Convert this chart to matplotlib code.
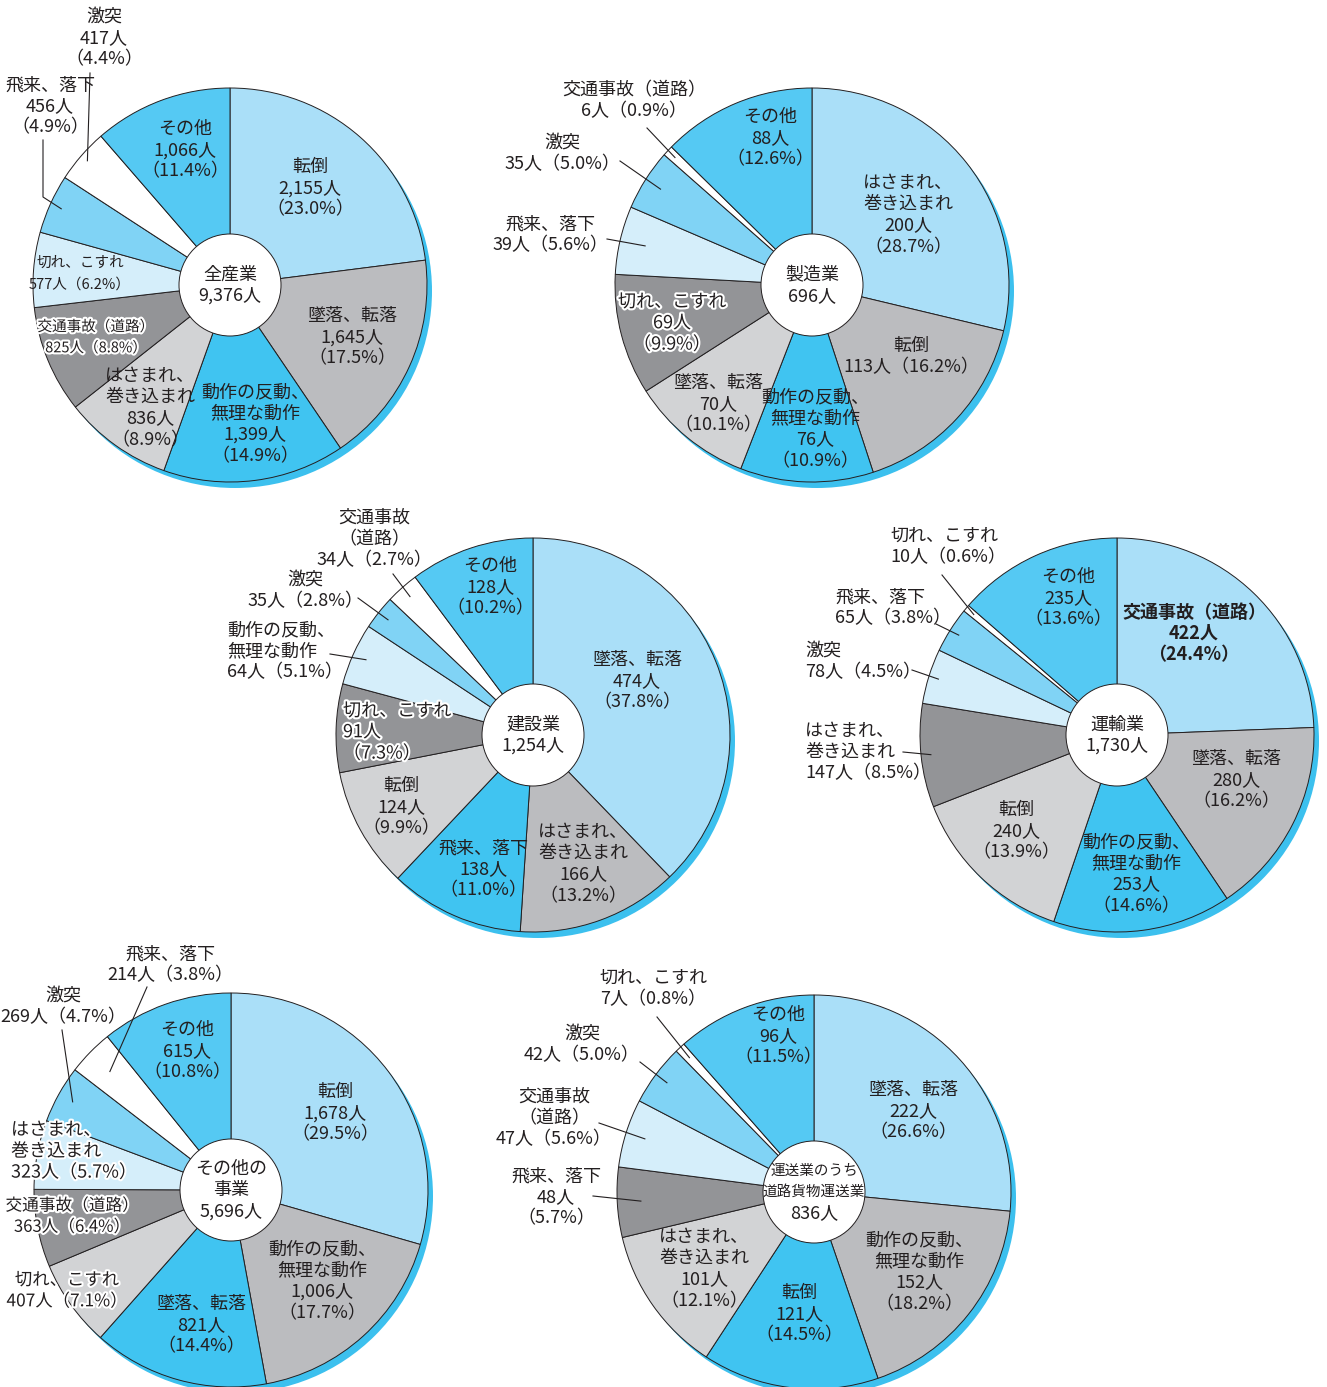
import matplotlib
matplotlib.use('Agg')
import matplotlib.pyplot as plt
import matplotlib.patheffects as pe
from matplotlib.patches import Circle
import numpy as np

plt.rcParams['font.family'] = ['Noto Sans CJK JP', 'DejaVu Sans']

# ---- data (clockwise from 12 o'clock) ----
ALL_CATS = ['転倒', '墜落、転落', '動作の反動、無理な動作', 'はさまれ、巻き込まれ',
            '交通事故（道路）', '切れ、こすれ', '飛来、落下', '激突', 'その他']
ALL_VALS = [2155, 1645, 1399, 836, 825, 577, 456, 417, 1066]
ALL_PCTS = [23.0, 17.5, 14.9, 8.9, 8.8, 6.2, 4.9, 4.4, 11.4]

MFG_CATS = ['はさまれ、巻き込まれ', '転倒', '動作の反動、無理な動作', '墜落、転落',
            '切れ、こすれ', '飛来、落下', '激突', '交通事故（道路）', 'その他']
MFG_VALS = [200, 113, 76, 70, 69, 39, 35, 6, 88]
MFG_PCTS = [28.7, 16.2, 10.9, 10.1, 9.9, 5.6, 5.0, 0.9, 12.6]

CON_CATS = ['墜落、転落', 'はさまれ、巻き込まれ', '飛来、落下', '転倒', '切れ、こすれ',
            '動作の反動、無理な動作', '激突', '交通事故（道路）', 'その他']
CON_VALS = [474, 166, 138, 124, 91, 64, 35, 34, 128]
CON_PCTS = [37.8, 13.2, 11.0, 9.9, 7.3, 5.1, 2.8, 2.7, 10.2]

TRN_CATS = ['交通事故（道路）', '墜落、転落', '動作の反動、無理な動作', '転倒',
            'はさまれ、巻き込まれ', '激突', '飛来、落下', '切れ、こすれ', 'その他']
TRN_VALS = [422, 280, 253, 240, 147, 78, 65, 10, 235]
TRN_PCTS = [24.4, 16.2, 14.6, 13.9, 8.5, 4.5, 3.8, 0.6, 13.6]

OTH_CATS = ['転倒', '動作の反動、無理な動作', '墜落、転落', '切れ、こすれ',
            '交通事故（道路）', 'はさまれ、巻き込まれ', '激突', '飛来、落下', 'その他']
OTH_VALS = [1678, 1006, 821, 407, 363, 323, 269, 214, 615]
OTH_PCTS = [29.5, 17.7, 14.4, 7.1, 6.4, 5.7, 4.7, 3.8, 10.8]

FRT_CATS = ['墜落、転落', '動作の反動、無理な動作', '転倒', 'はさまれ、巻き込まれ',
            '飛来、落下', '交通事故（道路）', '激突', '切れ、こすれ', 'その他']
FRT_VALS = [222, 152, 121, 101, 48, 47, 42, 7, 96]
FRT_PCTS = [26.6, 18.2, 14.5, 12.1, 5.7, 5.6, 5.0, 0.8, 11.5]

# ---- style ----
COLORS = ['#aadff8', '#bbbcbf', '#40c4f1', '#d2d3d5', '#939497',
          '#d5eefa', '#80d3f5', '#ffffff', '#55c9f3']
SHADOW = '#3cc0ee'
EDGE = '#231f20'
TXT = '#231f20'
R = 197
HOLE = 51
FS = 13
SMALL = 10.5
STEP = 21.3

T3 = '{n}\n{v}人\n（{p}）'
T2 = '{n}\n{v}人（{p}）'
TB = '{nb}\n{v}人（{p}）'
BREAK = {'はさまれ、巻き込まれ', '動作の反動、無理な動作'}

W, H = 1327, 1387
fig = plt.figure(figsize=(W / 100, H / 100), dpi=100)
ax = fig.add_axes([0, 0, 1, 1])


def L(x, y, t=T3, **kw):
    d = dict(x=x, y=y, t=t)
    d.update(kw)
    return d


def text_block(x, y, lines, size=FS, ha='center', stroke=False, bold=False, sizes=None):
    for i, s in enumerate(lines):
        fx = [pe.withStroke(linewidth=3, foreground='white')] if stroke else None
        ax.text(x, y + i * STEP, s, ha=ha, va='center', color=TXT,
                fontsize=(sizes[i] if sizes else size),
                fontweight='bold' if bold else 'normal',
                path_effects=fx, zorder=5)


def wedge_point(cx, cy, vals, i, f):
    v = np.asarray(vals, float)
    c = np.cumsum(v) / v.sum()
    m = c[i] - v[i] / v.sum() / 2
    th = np.deg2rad(-90 + 360 * m)
    return cx + f * R * np.cos(th), cy + f * R * np.sin(th)


def draw_pie(cx, cy, cats, vals, pcts, title, labels, title_sizes=None):
    ax.add_patch(Circle((cx + 5, cy + 6), R, fc=SHADOW, ec='none', zorder=0))
    ax.pie(vals, colors=COLORS, radius=R, center=(cx, cy), startangle=-90,
           counterclock=True, frame=True,
           wedgeprops=dict(edgecolor=EDGE, linewidth=0.7))
    ax.add_patch(Circle((cx, cy), HOLE, fc='white', ec=EDGE, lw=0.7, zorder=3))
    lines = title + [f'{sum(vals):,}人']
    text_block(cx, cy - (len(lines) - 1) / 2 * STEP, lines, sizes=title_sizes)

    for i, (c, v, p, lb) in enumerate(zip(cats, vals, pcts, labels)):
        n = c.replace('、', '、\n') if c in BREAK else c
        nb = c.replace('（', '\n（')
        s = lb['t'].format(n=n, nb=nb, v=f'{v:,}', p=f'{p:.1f}%')
        text_block(lb['x'], lb['y'], s.split('\n'), size=lb.get('size', FS),
                   ha=lb.get('ha', 'center'), stroke=lb.get('stroke', False),
                   bold=lb.get('bold', False))
        if 'lead' in lb:
            x0, y0, f = lb['lead']
            x1, y1 = wedge_point(cx, cy, vals, i, f)
            xs, ys = [x0], [y0]
            if 'via' in lb:
                xs.append(lb['via'][0])
                ys.append(lb['via'][1])
            xs.append(x1)
            ys.append(y1)
            ax.plot(xs, ys, color=EDGE, lw=0.8, zorder=4)


# ---- label layouts (pixel positions of first text line) ----
ALL_LAB = [L(310, 167), L(352, 316), L(255, 392), L(150, 376),
           L(96, 327, T2, size=SMALL, stroke=True), L(80, 263, T2, size=SMALL),
           L(50, 85, lead=(43, 140, 0.94), via=(43, 197)),
           L(104, 17, lead=(90, 73, 0.96)), L(185, 129)]

MFG_LAB = [L(908, 183), L(911, 346, T2), L(815, 397), L(718, 383),
           L(672, 302, stroke=True),
           L(550, 224, T2, lead=(607, 239, 0.87)),
           L(562, 143, T2, lead=(620, 161, 0.91)),
           L(634, 90, T2, lead=(647, 128, 0.95)), L(770, 117)]

CON_LAB = [L(637, 660), L(583, 832), L(483, 848), L(401, 786),
           L(343, 711, ha='left', stroke=True),
           L(227, 630, T2, ha='left', lead=(330, 654, 0.93)),
           L(305, 580, T2, lead=(358, 598, 0.94)),
           L(374, 518, TB, lead=(393, 574, 0.94)), L(490, 566)]

TRN_LAB = [L(1194, 612, bold=True), L(1236, 759), L(1136, 842), L(1016, 810),
           L(805, 731, T2, ha='left', lead=(903, 752, 0.95)),
           L(805, 651, T2, ha='left', lead=(912, 670, 0.95)),
           L(835, 597, T2, ha='left', lead=(936, 624, 0.95)),
           L(890, 536, T2, ha='left', lead=(942, 575, 0.95)), L(1068, 577)]

OTH_LAB = [L(335, 1092), L(322, 1249), L(201, 1304),
           L(67, 1280, T2, size=12.5, stroke=True),
           L(72, 1206, T2, size=12, stroke=True),
           L(11, 1130, T2, ha='left', stroke=True),
           L(63, 996, T2, lead=(62, 1030, 0.92)),
           L(170, 954, T2, lead=(147, 987, 0.86)), L(187, 1030)]

FRT_LAB = [L(913, 1090), L(919, 1240), L(799, 1293), L(704, 1237),
           L(556, 1176, lead=(593, 1196, 0.88)),
           L(554, 1097, TB, lead=(599, 1123, 0.90)),
           L(582, 1034, T2, lead=(640, 1062, 0.93)),
           L(653, 978, T2, lead=(657, 1017, 0.93)), L(778, 1015)]

draw_pie(230, 285, ALL_CATS, ALL_VALS, ALL_PCTS, ['全産業'], ALL_LAB)
draw_pie(812, 285, MFG_CATS, MFG_VALS, MFG_PCTS, ['製造業'], MFG_LAB)
draw_pie(533, 735, CON_CATS, CON_VALS, CON_PCTS, ['建設業'], CON_LAB)
draw_pie(1117, 735, TRN_CATS, TRN_VALS, TRN_PCTS, ['運輸業'], TRN_LAB)
draw_pie(231, 1190, OTH_CATS, OTH_VALS, OTH_PCTS, ['その他の', '事業'], OTH_LAB)
draw_pie(814, 1192, FRT_CATS, FRT_VALS, FRT_PCTS, ['運送業のうち', '道路貨物運送業'], FRT_LAB,
         title_sizes=[SMALL, SMALL, FS])

ax.set_xlim(0, W)
ax.set_ylim(H, 0)
ax.set_aspect('equal')
ax.axis('off')

fig.savefig('out.png', dpi=100, facecolor='white')
